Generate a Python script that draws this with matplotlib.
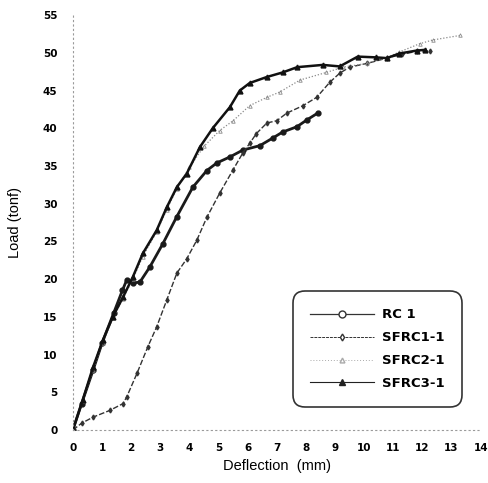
import matplotlib
matplotlib.use("Agg")
import matplotlib.pyplot as plt
from matplotlib.lines import Line2D

# load-deflection data
rc1_x = [0, 0.3, 0.7, 1.0, 1.4, 1.7, 1.85, 2.06, 2.3, 2.64, 3.09, 3.57, 4.12, 4.6,
         4.94, 5.39, 5.83, 6.42, 6.86, 7.2, 7.69, 8.03, 8.4]
rc1_y = [0, 3.5, 8, 11.5, 15.5, 18.5, 19.9, 19.5, 19.6, 21.6, 24.7, 28.3, 32.2, 34.4,
         35.4, 36.2, 37.1, 37.7, 38.7, 39.5, 40.2, 41.1, 42]

sfrc1_x = [0, 0.3, 0.69, 1.27, 1.72, 1.85, 2.2, 2.57, 2.88, 3.22, 3.57, 3.91, 4.26, 4.6,
           5.04, 5.5, 5.83, 6.07, 6.3, 6.66, 7.0, 7.34, 7.9, 8.37, 8.82, 9.16, 9.5, 10.1,
           10.78, 11.3, 11.8, 12.25]
sfrc1_y = [0, 0.9, 1.7, 2.6, 3.5, 4.4, 7.5, 11, 13.7, 17.2, 20.8, 22.7, 25.2, 28.2,
           31.4, 34.5, 36.7, 38, 39.3, 40.7, 41, 42, 43, 44.1, 46.1, 47.3, 48.1, 48.6,
           49.3, 49.8, 50.2, 50.3]

sfrc2_x = [0, 0.34, 0.69, 1.03, 1.37, 1.72, 2.06, 2.4, 2.88, 3.22, 3.57, 4.0, 4.5, 5.04,
           5.5, 6.07, 6.66, 7.1, 7.8, 8.7, 9.27, 10.1, 10.8, 11.2, 11.9, 12.35, 13.28]
sfrc2_y = [0, 3.8, 8, 11.6, 14.8, 17.4, 20, 23, 26.3, 29.2, 32, 34.8, 37.6, 39.7,
           41, 43, 44.1, 44.8, 46.4, 47.4, 48.1, 48.6, 49.4, 50.1, 51.2, 51.7, 52.3]

sfrc3_x = [0, 0.34, 0.69, 1.03, 1.37, 1.72, 2.06, 2.4, 2.88, 3.22, 3.57, 3.91, 4.36, 4.8,
           5.39, 5.73, 6.07, 6.66, 7.2, 7.7, 8.58, 9.16, 9.78, 10.4, 10.78, 11.2, 11.8, 12.1]
sfrc3_y = [0, 4, 8.3, 11.9, 15, 17.6, 20.3, 23.4, 26.5, 29.5, 32.2, 34, 37.5, 40,
           42.8, 45, 46, 46.8, 47.4, 48.1, 48.4, 48.2, 49.5, 49.4, 49.3, 49.9, 50.3, 50.4]

labels = ["RC 1", "SFRC1-1", "SFRC2-1", "SFRC3-1"]
x_ticks = list(range(0, 15))
y_ticks = list(range(0, 60, 5))

fig = plt.figure(figsize=(4.89, 4.83), dpi=100)
ax = fig.add_axes([0.149, 0.1097, 0.834, 0.859])

ax.plot(rc1_x, rc1_y, color="#1a1a1a", lw=2.0, marker="o", ms=3.5,
        mfc="#1a1a1a", mec="#1a1a1a", label=labels[0])
ax.plot(sfrc1_x, sfrc1_y, color="#333333", lw=1.0, ls=(0, (4, 1.5)), marker="d", ms=2.5,
        mfc="#333333", mec="#333333", label=labels[1])
ax.plot(sfrc2_x, sfrc2_y, color="#8a8a8a", lw=0.9, ls=(0, (1, 1.5)), marker="^", ms=2.5,
        mfc="none", mec="#8a8a8a", mew=0.6, label=labels[2])
ax.plot(sfrc3_x, sfrc3_y, color="#111111", lw=1.8, marker="^", ms=3.5,
        mfc="#111111", mec="#111111", label=labels[3])

ax.set_xlim(0, 14)
ax.set_ylim(0, 55)
ax.set_xticks(x_ticks)
ax.set_yticks(y_ticks)

for s in ["top", "right"]:
    ax.spines[s].set_visible(False)
for s in ["left", "bottom"]:
    ax.spines[s].set_linestyle((0, (1, 3)))
    ax.spines[s].set_color("#9a9a9a")
    ax.spines[s].set_linewidth(0.8)

ax.tick_params(axis="both", length=0, labelsize=7.5)
ax.tick_params(axis="y", pad=11)
ax.tick_params(axis="x", pad=9)
for t in ax.get_xticklabels() + ax.get_yticklabels():
    t.set_fontweight("bold")

ax.set_xlabel("Deflection  (mm)", fontsize=10.5, family="Liberation Sans", labelpad=5)
ax.set_ylabel("Load (tonf)", fontsize=10.5, family="Liberation Sans", labelpad=15)

# legend handles with one centred marker each
handles = [
    Line2D([], [], color="#333333", lw=0.9, marker="o", ms=5, mfc="white", mec="#333333"),
    Line2D([], [], color="#333333", lw=0.7, ls=(0, (3, 1)), marker="d", ms=3.5,
           mfc="white", mec="#333333"),
    Line2D([], [], color="#aaaaaa", lw=0.7, ls=(0, (1, 2)), marker="^", ms=3.5,
           mfc="white", mec="#aaaaaa"),
    Line2D([], [], color="#222222", lw=0.8, marker="^", ms=4, mfc="#222222", mec="#222222"),
]
leg = ax.legend(handles, labels, loc="lower left", bbox_to_anchor=(0.539, 0.055),
                borderaxespad=0, numpoints=1, handlelength=4.9, handletextpad=0.6,
                labelspacing=0.75, borderpad=1.3, fancybox=True, frameon=True,
                prop={"weight": "bold", "size": 9.5})
leg.get_frame().set_edgecolor("black")
leg.get_frame().set_linewidth(1.2)
leg.get_frame().set_boxstyle("round,pad=0.0,rounding_size=0.9")

fig.savefig("out.png", dpi=100)
